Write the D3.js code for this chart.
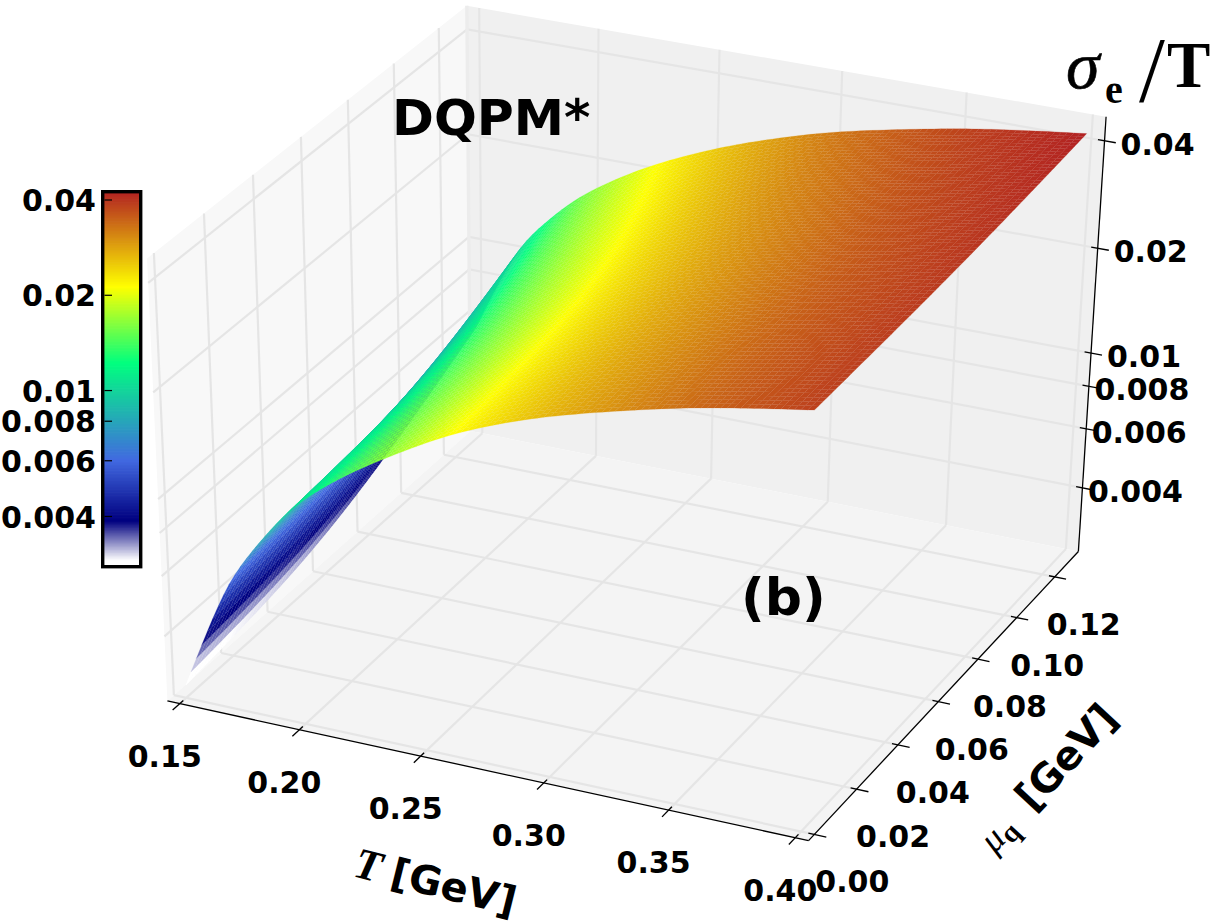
<!DOCTYPE html>
<html><head><meta charset="utf-8">
<script src="https://cdn.jsdelivr.net/npm/d3@7"></script>
<style>html,body{margin:0;background:#fff}svg{display:block}text{font-family:"DejaVu Sans";font-weight:bold;fill:#000}</style>
</head><body><script>
// ---- data ----
const tempTicks=[0.15,0.20,0.25,0.30,0.35,0.40];
const muTicks=[0.00,0.02,0.04,0.06,0.08,0.10,0.12];
const zTicks=[0.004,0.006,0.008,0.01,0.02,0.04];
const zTickLabels=["0.004","0.006","0.008","0.01","0.02","0.04"];
const tempGrid=[0.15,0.16,0.17,0.18,0.19,0.20,0.22,0.24,0.26,0.28,0.30,0.33,0.36,0.40];
const muGrid=[0.00,0.05,0.09,0.13];
const sigmaMu000=[.0028,.0042,.0061,.0077,.0095,.0114,.0146,.0177,.02125,.0243,.0272,.0310,.0348,.0387];
const sigmaMu005=[.0031,.00459,.00662,.00828,.01013,.01206,.01535,.01847,.0220,.02503,.02794,.03169,.03545,.03925];
const sigmaMu009=[.0040,.00568,.00795,.00976,.0117,.01369,.01709,.02033,.02376,.02674,.02967,.03331,.03692,.04052];
const sigmaMu013=[.0056,.0079,.0106,.0126,.0147,.0167,.0203,.0236,.0268,.0297,.0326,.0360,.0394,.0426];
const colorStops=[.0029,.00387,.0060,.01218,.0212,.0424];
const colorNames=["#ffffff","#00007f","#4169e1","#00ff7f","#ffff00","#b22222"];

const W=1219,H=924;
const svg=d3.select("body").append("svg").attr("width",W).attr("height",H);

// ---- scales ----
const uS=d3.scaleLinear().domain([0.1448,0.4052]).range([0,1]);
const vS=d3.scaleLinear().domain([-0.0027,0.1327]).range([0,1]);
const wS=d3.scaleLog().domain([0.00257,0.0466]).range([0,1]);
const col=d3.scaleLog().domain(colorStops).range(colorNames).interpolate(d3.interpolateRgb).clamp(true);

// ---- camera fitted to the box corners seen in the picture ----
const corners=[[0,0,0,168,700],[1,0,0,808,842],[1,1,0,1079,549],[0,1,0,470,433],[0,0,1,147,258],[1,1,1,1106,118],[0,1,1,467,5]];
function fitCamera(pts){
  const n=11,A=Array.from({length:n},()=>new Array(n+1).fill(0));
  const add=(r,b)=>{for(let i=0;i<n;i++){for(let j=0;j<n;j++)A[i][j]+=r[i]*r[j];A[i][n]+=r[i]*b;}};
  pts.forEach(([u,v,w,x,y])=>{
    const X=x/1000,Y=y/1000;
    add([u,v,w,1,0,0,0,0,-X*u,-X*v,-X*w],X);
    add([0,0,0,0,u,v,w,1,-Y*u,-Y*v,-Y*w],Y);
  });
  for(let i=0;i<n;i++){A[i][i]+=1e-12;
    let p=i;for(let k=i+1;k<n;k++)if(Math.abs(A[k][i])>Math.abs(A[p][i]))p=k;
    [A[i],A[p]]=[A[p],A[i]];
    for(let k=0;k<n;k++)if(k!==i){const f=A[k][i]/A[i][i];for(let j=i;j<=n;j++)A[k][j]-=f*A[i][j];}
  }
  return A.map((r,i)=>r[n]/r[i]);
}
const P=fitCamera(corners);
const depth=(u,v,w)=>P[8]*u+P[9]*v+P[10]*w+1;
const proj=(u,v,w)=>{const h=depth(u,v,w);return [1000*(P[0]*u+P[1]*v+P[2]*w+P[3])/h,1000*(P[4]*u+P[5]*v+P[6]*w+P[7])/h];};
const farSign=depth(0,1,0)>depth(1,0,0)?1:-1;

// ---- panes ----
const poly=(pts)=>pts.map(p=>proj(...p).map(d=>d.toFixed(2)).join(",")).join(" ");
const panes=[
  {pts:[[0,0,0],[0,1,0],[0,1,1],[0,0,1]],fill:"#f8f8f8"},
  {pts:[[0,1,0],[1,1,0],[1,1,1],[0,1,1]],fill:"#f0f0f0"},
  {pts:[[0,0,0],[1,0,0],[1,1,0],[0,1,0]],fill:"#f4f4f4"}];
svg.append("g").selectAll("polygon").data(panes).join("polygon").attr("points",d=>poly(d.pts)).attr("fill",d=>d.fill);

// ---- grid ----
const gridSegs=[];
tempTicks.forEach(t=>{const u=uS(t);gridSegs.push([[u,0,0],[u,1,0]],[[u,1,0],[u,1,1]]);});
muTicks.forEach(m=>{const v=vS(m);gridSegs.push([[1,v,0],[0,v,0]],[[0,v,0],[0,v,1]]);});
zTicks.forEach(z=>{const w=wS(z);gridSegs.push([[0,0,w],[0,1,w]],[[0,1,w],[1,1,w]]);});
const seg=(sel,data,stroke,sw)=>sel.selectAll("line").data(data).join("line")
  .attr("x1",d=>proj(...d[0])[0]).attr("y1",d=>proj(...d[0])[1])
  .attr("x2",d=>proj(...d[1])[0]).attr("y2",d=>proj(...d[1])[1])
  .attr("stroke",stroke).attr("stroke-width",sw);
seg(svg.append("g"),gridSegs,"#e5e5e5",2.2);
seg(svg.append("g"),[[[0,1,0],[0,1,1]]],"#ececec",3.5);

// ---- axes ----
const axisSegs=[[[0,0,0],[1,0,0]],[[1,0,0],[1,1,0]],[[1,1,0],[1,1,1]]];
seg(svg.append("g"),axisSegs,"#000",1.3);
const tickSegs=[];
tempTicks.forEach(t=>{const u=uS(t);tickSegs.push([[u,-0.022,0],[u,0.011,0]]);});
muTicks.forEach(m=>{const v=vS(m);tickSegs.push([[0.991,v,0],[1.018,v,0]]);});
zTicks.forEach(z=>{const w=wS(z);tickSegs.push([[0.99,1,w],[1.017,1,w]]);});
seg(svg.append("g"),tickSegs,"#000",1.3);

const lab=svg.append("g").attr("font-size",30).attr("text-anchor","middle");
tempTicks.forEach(t=>{const p=proj(uS(t),0,0);lab.append("text").attr("x",p[0]-15).attr("y",p[1]+63).text(t.toFixed(2));});
muTicks.forEach((m,i)=>{const p=proj(1,vS(m),0);lab.append("text").attr("x",p[0]+38-1.5*i).attr("y",p[1]+58).text(m.toFixed(2));});
zTicks.forEach((z,i)=>{const p=proj(1,1,wS(z));lab.append("text").attr("x",p[0]+53).attr("y",p[1]+14).text(zTickLabels[i]);});

// ---- surface ----
const rows=[sigmaMu000,sigmaMu005,sigmaMu009,sigmaMu013];
const logRows=rows.map(r=>r.map(Math.log));
const tempOfT=d3.interpolateBasis(tempGrid);
const nT=100,nM=80;
const tForTemp=(target)=>{let a=0,b=1;for(let i=0;i<30;i++){const m=(a+b)/2;if(tempOfT(m)<target)a=m;else b=m;}return (a+b)/2;};
const rowFns=logRows.map(r=>d3.interpolateBasis(r));
const muOfS=d3.interpolateBasis(muGrid);
const node=[];
for(let i=0;i<=nT;i++){
  const temp=tempGrid[0]+(tempGrid[tempGrid.length-1]-tempGrid[0])*i/nT;
  const t=tForTemp(temp);
  const column=d3.interpolateBasis(rowFns.map(f=>f(t)));
  const line=[];
  for(let j=0;j<=nM;j++){
    const s=j/nM, z=Math.exp(column(s));
    line.push({u:uS(temp),v:vS(muOfS(s)),w:wS(z),l:Math.log(z)});
  }
  node.push(line);
}
const quads=[];
for(let i=0;i<nT;i++)for(let j=0;j<nM;j++){
  const q=[node[i][j],node[i+1][j],node[i+1][j+1],node[i][j+1]];
  const pts=q.map(n=>proj(n.u,n.v,n.w));
  const d=d3.mean(q,n=>depth(n.u,n.v,n.w))*farSign;
  quads.push({pts,d,c:col(Math.exp((node[i][j].l+node[i][j+1].l)/2))});
}
quads.sort((a,b)=>d3.descending(a.d,b.d));
svg.append("g").selectAll("polygon").data(quads).join("polygon")
  .attr("points",d=>d.pts.map(p=>p[0].toFixed(2)+","+p[1].toFixed(2)).join(" "))
  .attr("fill",d=>d.c).attr("stroke",d=>d.c).attr("stroke-width",0.2);

// ---- colour bar ----
const cbY=d3.scaleLog().domain([0.004,0.04]).range([516.5,200]);
const cbZ=d3.range(0,256).map(i=>.0028*Math.pow(colorStops[5]/.0028,i/255));
const cb=svg.append("g");
cb.selectAll("rect").data(cbZ).join("rect").attr("x",103).attr("width",37)
  .attr("y",d=>cbY(d)-1.6).attr("height",2.2).attr("fill",d=>col(d));
cb.append("rect").attr("x",102.7).attr("y",191.7).attr("width",38).attr("height",375).attr("fill","none").attr("stroke","#000").attr("stroke-width",3.4);
cb.selectAll("line").data(zTicks).join("line").attr("x1",104.5).attr("x2",112).attr("y1",d=>cbY(d)).attr("y2",d=>cbY(d)).attr("stroke","#000").attr("stroke-width",1.2);
cb.selectAll("text").data(zTicks).join("text").attr("x",96).attr("y",d=>cbY(d)+11).attr("text-anchor","end").attr("font-size",30).text((d,i)=>zTickLabels[i]);

// ---- titles ----
svg.append("text").attr("x",392).attr("y",135).attr("font-size",50.5).text("DQPM*");
svg.append("text").attr("x",741).attr("y",615).attr("font-size",52).text("(b)");
const serif='"Liberation Serif"';
svg.append("text").attr("x",1066).attr("y",88).attr("font-size",68).style("font-family",serif).style("font-style","italic").style("font-weight","normal").style("stroke","#000").style("stroke-width",0.6).text("σ");
svg.append("text").attr("x",1105).attr("y",103).attr("font-size",40).style("font-family",serif).text("e");
svg.append("text").attr("x",1139).attr("y",101).attr("font-size",93).style("font-family",serif).style("font-weight","normal").text("/");
svg.append("text").attr("x",1167).attr("y",87).attr("font-size",65).style("font-family",serif).text("T");

const tl=svg.append("text").attr("transform","translate(432,896) rotate(14)").attr("text-anchor","middle").attr("font-size",40);
tl.append("tspan").style("font-family",serif).style("font-style","italic").style("font-weight","bold").attr("font-size",44).text("T ");
tl.append("tspan").text("[GeV]");
const ml=svg.append("text").attr("transform","translate(1057,787) rotate(-47)").attr("text-anchor","middle").attr("font-size",40);
ml.append("tspan").style("font-family",serif).style("font-style","italic").style("font-weight","normal").attr("font-size",37).text("μ");
ml.append("tspan").style("font-family",serif).attr("font-size",28).attr("dy",6).text("q");
ml.append("tspan").attr("dy",-6).attr("dx",22).text("[GeV]");
</script></body></html>
